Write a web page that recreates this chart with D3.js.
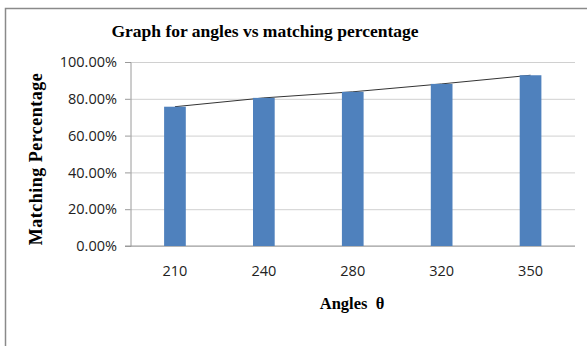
<!DOCTYPE html>
<html>
<head>
<meta charset="utf-8">
<script src="https://cdn.jsdelivr.net/npm/d3@7"></script>
<style>
  body { margin: 0; background: #fff; }
  svg { display: block; }
  .tick-label text { font-family: 'Open Sans', sans-serif; font-size: 14.5px; fill: #222; }
  .title, .axis-label { font-family: 'Liberation Serif', 'Times New Roman', serif; font-weight: bold; fill: #000; }
</style>
</head>
<body>
<svg width="587" height="346"></svg>
<script>
const categories = ['210', '240', '280', '320', '350'];
const values = [0.757, 0.805, 0.838, 0.881, 0.928];
const yTicks = [0, 0.2, 0.4, 0.6, 0.8, 1.0];

const svg = d3.select('svg');
const width = +svg.attr('width');
const height = +svg.attr('height');

// outer frame (only top + left edges are visible in the crop)
svg.append('path')
  .attr('d', `M5.5,${height} V8.5 H${width}`)
  .attr('fill', 'none')
  .attr('stroke', '#8a8a8a')
  .attr('stroke-width', 1.5);

const margin = { top: 62, right: 12, bottom: 100, left: 130.5 };
const innerWidth = width - margin.left - margin.right;
const innerHeight = height - margin.top - margin.bottom;

const xScale = d3.scaleBand()
  .domain(categories)
  .range([0, innerWidth])
  .paddingInner(0.756)
  .paddingOuter(0.378);

const yScale = d3.scaleLinear()
  .domain([0, 1])
  .range([innerHeight, 0]);

const g = svg.append('g')
  .attr('transform', `translate(${margin.left},${margin.top})`);

// gridlines
const gridG = g.append('g')
  .call(d3.axisLeft(yScale).tickValues(yTicks).tickSize(-innerWidth).tickFormat(''));
gridG.select('.domain').remove();
gridG.selectAll('line').attr('stroke', '#d0d0d0');

// y axis with small outside ticks
const yAxisG = g.append('g')
  .attr('class', 'tick-label')
  .call(d3.axisLeft(yScale)
    .tickValues(yTicks)
    .tickSize(5.5)
    .tickPadding(8)
    .tickFormat(d3.format('.2%')));
yAxisG.select('.domain').attr('stroke', '#9a9a9a');
yAxisG.selectAll('line').attr('stroke', '#9a9a9a');

// x axis
const xAxisG = g.append('g')
  .attr('class', 'tick-label')
  .attr('transform', `translate(0,${innerHeight})`)
  .call(d3.axisBottom(xScale).tickSize(0).tickPadding(20));
xAxisG.select('.domain').remove();
xAxisG.append('line')
  .attr('x1', -5.5)
  .attr('x2', innerWidth)
  .attr('stroke', '#9a9a9a');

// line series (sits behind the bars)
const line = d3.line()
  .x((d, i) => xScale(categories[i]) + xScale.bandwidth() / 2)
  .y(d => yScale(d));

g.append('path')
  .datum(values)
  .attr('d', line)
  .attr('fill', 'none')
  .attr('stroke', '#333')
  .attr('stroke-width', 1);

g.selectAll('rect').data(values)
  .enter().append('rect')
    .attr('x', (d, i) => xScale(categories[i]))
    .attr('y', d => yScale(d))
    .attr('width', xScale.bandwidth())
    .attr('height', d => innerHeight - yScale(d))
    .attr('fill', '#4f81bd');

svg.append('text')
  .attr('class', 'title')
  .attr('x', 265)
  .attr('y', 37)
  .attr('text-anchor', 'middle')
  .attr('font-size', 17.5)
  .text('Graph for angles vs matching percentage');

svg.append('text')
  .attr('class', 'axis-label')
  .attr('transform', 'translate(42,159) rotate(-90)')
  .attr('text-anchor', 'middle')
  .attr('font-size', 18)
  .attr('letter-spacing', 0.5)
  .text('Matching Percentage');

svg.append('text')
  .attr('class', 'axis-label')
  .attr('x', 352)
  .attr('y', 309)
  .attr('text-anchor', 'middle')
  .attr('font-size', 16.5)
  .attr('xml:space', 'preserve')
  .style('white-space', 'pre')
  .text('Angles  θ');
</script>
</body>
</html>
